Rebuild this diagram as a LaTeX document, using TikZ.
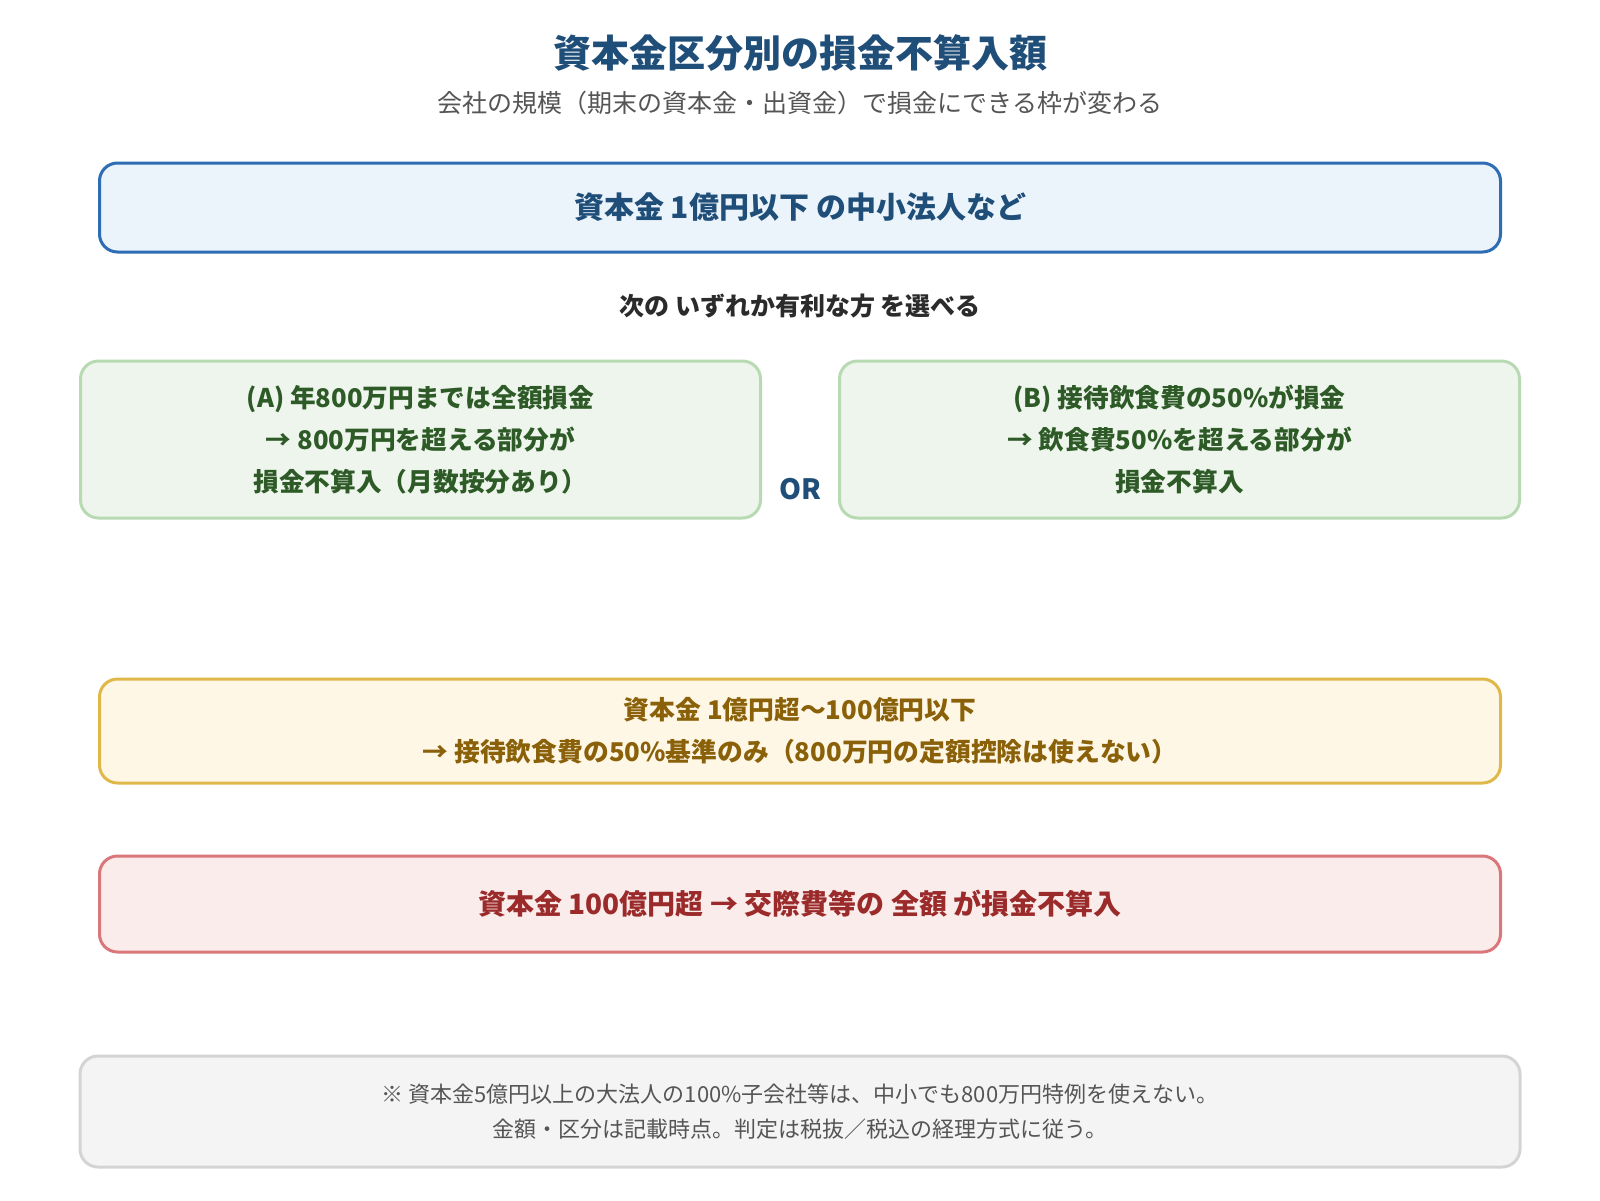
\documentclass[tikz,border=0pt]{standalone}
\usepackage{fontspec}
\setmainfont{Noto Sans CJK JP}
\definecolor{titleblue}{HTML}{1F4E79}
\definecolor{subgray}{HTML}{555555}
\definecolor{blueborder}{HTML}{2E6DB4}
\definecolor{bluefill}{HTML}{EBF3FB}
\definecolor{greenborder}{HTML}{B8DAB3}
\definecolor{greenfill}{HTML}{EEF5EC}
\definecolor{greentext}{HTML}{2D5A27}
\definecolor{yellowborder}{HTML}{E0B84A}
\definecolor{yellowfill}{HTML}{FEF7E6}
\definecolor{yellowtext}{HTML}{8A6109}
\definecolor{redborder}{HTML}{D9777A}
\definecolor{redfill}{HTML}{FBECEC}
\definecolor{redtext}{HTML}{9B2B2B}
\definecolor{grayborder}{HTML}{D4D4D4}
\definecolor{grayfill}{HTML}{F4F4F4}
\definecolor{darktext}{HTML}{2B2B2B}
\tikzset{
  x=1pt, y=-1pt,
  panel/.style={draw, line width=3pt, rounded corners=18pt, align=center, inner sep=0pt},
  wide/.style={panel, minimum width=1401pt},
  half/.style={panel, minimum width=680pt, minimum height=157pt},
}
\begin{document}
\begin{tikzpicture}
\useasboundingbox (0,0) rectangle (1600,1200);
\fill[white] (0,0) rectangle (1600,1200);
\node[font=\fontsize{38}{44}\selectfont\bfseries, text=titleblue] (title) at (800,53) {資本金区分別の損金不算入額};
\node[font=\fontsize{25}{30}\selectfont, text=subgray] (subtitle) at (800,103) {会社の規模（期末の資本金・出資金）で損金にできる枠が変わる};
\node[wide, minimum height=89pt, draw=blueborder, fill=bluefill, text=titleblue, font=\fontsize{30}{34}\selectfont\bfseries] (small) at (800,207.5) {資本金 1億円以下 の中小法人など};
\node[font=\fontsize{25}{28}\selectfont\bfseries, text=darktext] (choose) at (800,306) {次の いずれか有利な方 を選べる};
\node[half, draw=greenborder, fill=greenfill, text=greentext, font=\fontsize{25.7}{42}\selectfont\bfseries] (optA) at (420.5,439.5) {(A) 年800万円までは全額損金\\→ 800万円を超える部分が\\損金不算入（月数按分あり）};
\node[half, draw=greenborder, fill=greenfill, text=greentext, font=\fontsize{25.7}{42}\selectfont\bfseries] (optB) at (1179.5,439.5) {(B) 接待飲食費の50\%が損金\\→ 飲食費50\%を超える部分が\\損金不算入};
\node[font=\fontsize{28}{34}\selectfont\bfseries, text=titleblue] (or) at (800,489) {OR};
\node[wide, minimum height=104pt, draw=yellowborder, fill=yellowfill, text=yellowtext, font=\fontsize{25.8}{42}\selectfont\bfseries] (mid) at (800,731) {資本金 1億円超〜100億円以下\\→ 接待飲食費の50\%基準のみ（800万円の定額控除は使えない）};
\node[wide, minimum height=96pt, draw=redborder, fill=redfill, text=redtext, font=\fontsize{28}{32}\selectfont\bfseries] (large) at (800,904) {資本金 100億円超 → 交際費等の 全額 が損金不算入};
\node[panel, minimum width=1440pt, minimum height=111pt, draw=grayborder, fill=grayfill, text=subgray, font=\fontsize{22}{35}\selectfont] (note) at (800,1111.5) {※ 資本金5億円以上の大法人の100\%子会社等は、中小でも800万円特例を使えない。\\金額・区分は記載時点。判定は税抜／税込の経理方式に従う。};
\end{tikzpicture}
\end{document}
